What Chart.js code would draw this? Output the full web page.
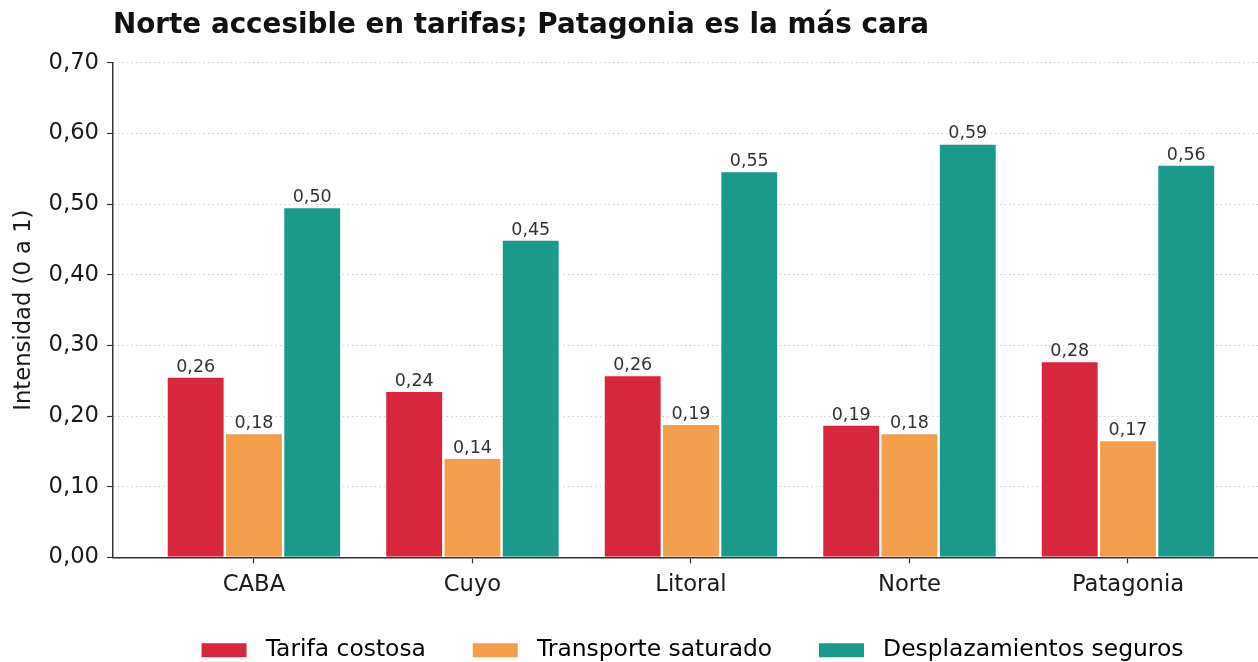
<!DOCTYPE html>
<html>
<head>
<meta charset="utf-8">
<script src="https://cdn.jsdelivr.net/npm/chart.js@4.4.1/dist/chart.umd.min.js"></script>
<style>
  html, body { margin: 0; padding: 0; background: #fff; overflow: hidden; width: 1258px; height: 662px; }
  #wrap { width: 1258px; height: 662px; position: relative; overflow: hidden; }
  canvas { position: absolute; left: 0; top: 0; }
</style>
</head>
<body>
<div id="wrap"><canvas id="c" width="1272" height="672"></canvas></div>
<script>
const categories = ['CABA', 'Cuyo', 'Litoral', 'Norte', 'Patagonia'];
const tarifaCostosa = [0.256, 0.236, 0.258, 0.188, 0.278];
const transporteSaturado = [0.176, 0.141, 0.189, 0.176, 0.166];
const desplazamientosSeguros = [0.496, 0.450, 0.547, 0.586, 0.556];
const seriesNames = ['Tarifa costosa', 'Transporte saturado', 'Desplazamientos seguros'];
const yTicks = [0, 0.1, 0.2, 0.3, 0.4, 0.5, 0.6, 0.7];

const colors = ['#D7263D', '#F29E4C', '#1B998B'];
const FONT = "'DejaVu Sans', sans-serif";

function fmt(v) { return v.toFixed(2).replace('.', ','); }
function pts(vals) { return vals.map((v, i) => ({ x: i, y: v })); }

const labelPlugin = {
  id: 'barLabels',
  afterDatasetsDraw(chart) {
    const ctx = chart.ctx;
    ctx.save();
    ctx.font = "17.5px " + FONT;
    ctx.fillStyle = '#333333';
    ctx.textAlign = 'center';
    ctx.textBaseline = 'alphabetic';
    chart.data.datasets.forEach((ds, di) => {
      const meta = chart.getDatasetMeta(di);
      meta.data.forEach((bar, i) => {
        ctx.fillText(fmt(ds.data[i].y), bar.x, bar.y - 5);
      });
    });
    ctx.restore();
  }
};

new Chart(document.getElementById('c'), {
  type: 'bar',
  data: {
    datasets: [
      { label: seriesNames[0], data: pts(tarifaCostosa), backgroundColor: colors[0] },
      { label: seriesNames[1], data: pts(transporteSaturado), backgroundColor: colors[1] },
      { label: seriesNames[2], data: pts(desplazamientosSeguros), backgroundColor: colors[2] }
    ]
  },
  options: {
    responsive: false,
    animation: false,
    devicePixelRatio: 1,
    layout: { padding: { left: 0, right: 0, top: 0, bottom: 0 } },
    datasets: {
      bar: {
        categoryPercentage: 0.8,
        barPercentage: 1.0,
        borderColor: '#ffffff',
        borderWidth: 1.2
      }
    },
    scales: {
      x: {
        type: 'linear',
        min: -0.645,
        max: 4.659,
        offset: false,
        grid: { display: true, offset: false, drawOnChartArea: false, drawTicks: true, tickLength: 6, tickColor: '#333', tickWidth: 1.2 },
        border: { display: true, color: '#333', width: 1.5 },
        ticks: {
          stepSize: 1,
          includeBounds: false,
          autoSkip: false,
          maxRotation: 0,
          color: '#1a1a1a',
          font: { family: FONT, size: 22.7 },
          padding: 8,
          callback: (v) => (Number.isInteger(v) && v >= 0 && v < categories.length) ? categories[v] : ''
        }
      },
      y: {
        min: yTicks[0],
        max: yTicks[yTicks.length - 1],
        afterFit(scale) { scale.width = 113; },
        afterBuildTicks(scale) { scale.ticks = yTicks.map(v => ({ value: v })); },
        grid: { color: '#cfcfcf', lineWidth: 1, tickColor: '#333', tickLength: 6, tickWidth: 1.2, tickBorderDash: [] },
        border: { display: true, color: '#333', width: 1.5, dash: [1.5, 3] },
        ticks: {
          color: '#1a1a1a',
          font: { family: FONT, size: 22.7 },
          padding: 8,
          callback: (v) => fmt(v)
        },
        title: {
          display: true,
          text: 'Intensidad (0 a 1)',
          color: '#1a1a1a',
          font: { family: FONT, size: 22.7 },
          padding: { top: 10.4, bottom: 0 }
        }
      }
    },
    plugins: {
      title: {
        display: true,
        fullSize: false,
        align: 'start',
        text: 'Norte accesible en tarifas; Patagonia es la más cara',
        color: '#111',
        font: { family: FONT, size: 27.8, weight: 'bold' },
        padding: { top: 9.3, bottom: 20.3 }
      },
      legend: {
        display: true,
        position: 'bottom',
        fullSize: false,
        labels: {
          boxWidth: 45,
          boxHeight: 14,
          padding: 32,
          color: '#1a1a1a',
          font: { family: FONT, size: 23.4 },
          generateLabels(chart) {
            return chart.data.datasets.map((ds, i) => ({
              text: ' ' + ds.label + (i < 2 ? '  ' : ''),
              fillStyle: ds.backgroundColor,
              strokeStyle: ds.backgroundColor,
              lineWidth: 0,
              hidden: false,
              datasetIndex: i
            }));
          }
        }
      },
      tooltip: { enabled: false }
    }
  },
  plugins: [labelPlugin]
});
</script>
</body>
</html>
